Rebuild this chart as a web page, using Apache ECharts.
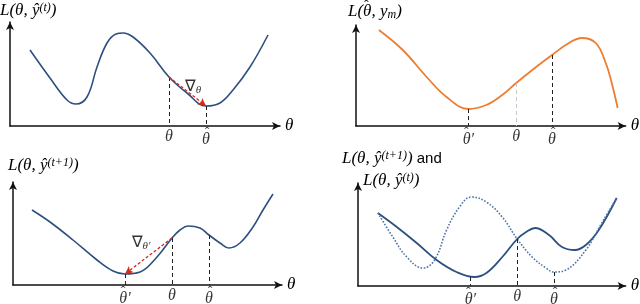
<!DOCTYPE html>
<html><head><meta charset="utf-8">
<script src="https://cdn.jsdelivr.net/npm/echarts@6/dist/echarts.min.js"></script>
<style>html,body{margin:0;padding:0;background:#fff}#c{width:640px;height:304px}</style>
</head><body><div id="c"></div>
<script>
// ---- data (units: grid units) ----
const curveTL = [[20,76],[40,48],[57,26],[66,22],[77,29],[87,59],[97,83],[106,92],[113,93],[123,89],[140,73],[159,49],[177,33],[196,20],[210,23],[223,36],[240,59],[258,91]];
const marksTLx = [159,196];
const marksTLy = [49,20];
const labelsTL = ['θ','θ^'];
const arrowTL = [[159,49],[196,20]];

const curveTR = [[23,96],[47,76],[71,49],[91,29],[113,17],[131,21],[147,31],[161,43],[181,59],[197,71],[214,83],[227,88],[241,83],[251,63],[257,43],[263,18]];
const marksTRx = [113,161,197];
const marksTRy = [17,43,71];
const labelsTR = ['θ^′','θ','θ^'];

const curveBL = [[19,75],[37,63],[60,45],[84,25],[100,14],[112,11],[127,13],[144,28],[159,47],[167,55],[175,59],[187,57],[196,50],[207,42],[216,37],[227,42],[240,58],[250,75],[260,91]];
const marksBLx = [112,159,196];
const marksBLy = [11,47,50];
const labelsBL = ['θ^′','θ','θ^'];
const arrowBL = [[159,47],[112,11]];

const curveBRsolid = [[20,73],[39,59],[59,43],[79,26],[99,14],[117,9],[129,13],[145,29],[160,47],[169,54],[178,58],[192,51],[205,39],[218,36],[229,41],[242,56],[260,88]];
const curveBRdotted = [[20,73],[35,49],[49,29],[65,18],[77,26],[89,56],[102,79],[114,89],[129,84],[145,69],[160,47],[175,29],[189,18],[197,14],[209,16],[229,36],[245,63],[260,88]];
const marksBRx = [113,160,197];
const marksBRy = [9,47,14];
const labelsBR = ['θ^′','θ','θ^'];

// ---- styling ----
const BLUE = '#2d5080';
const DOT = '#4d73a8';
const ORANGE = '#ed7d31';
const RED = '#d42a1e';
const MATH = 'Liberation Serif';

const grids = [
  {left:10, top:22, width:270, height:104},
  {left:356, top:25, width:271, height:101},
  {left:13, top:182, width:269, height:103},
  {left:358, top:183, width:269, height:103}
];

const axisLine = {show:true, lineStyle:{color:'#111', width:1.5}, symbol:['none','arrow'], symbolSize:[6,8]};

const xAxes = grids.map((g,i)=>({
  type:'value', gridIndex:i, min:0, max:g.width,
  axisLine, axisTick:{show:false}, axisLabel:{show:false}, splitLine:{show:false},
  name:'θ', nameLocation:'end', nameGap:5,
  nameTextStyle:{fontFamily:MATH, fontStyle:'italic', fontSize:17, color:'#000', verticalAlign:'middle'}
}));
const yAxes = grids.map((g,i)=>({
  type:'value', gridIndex:i, min:0, max:g.height,
  axisLine, axisTick:{show:false}, axisLabel:{show:false}, splitLine:{show:false}
}));

function drops(xs, ys, styles){
  return xs.map((x,k)=>[
    {coord:[x, ys[k]], symbol:'none', lineStyle:Object.assign({color:'#222', type:[4,3], width:1}, (styles&&styles[k])||{})},
    {coord:[x, 0], symbol:'none'}
  ]);
}
function arrow(pts){
  return [[
    {coord:pts[0], symbol:'none', lineStyle:{color:RED, type:[3,2], width:1.3}},
    {coord:pts[1], symbol:'arrow', symbolSize:[6,8]}
  ]];
}
// label text 'θ^' means theta with a hat; trailing ′ is a prime
function tickLabels(i, xs, labels){
  const textSeries = {
    type:'scatter', xAxisIndex:i, yAxisIndex:i, symbolSize:0, silent:true, z:5,
    data: xs.map((x,k)=>{
      const hat = labels[k].indexOf('^') >= 0;
      return {value:[x,0], name:labels[k].replace('^',''), label:{distance: hat ? 6 : 3}};
    }),
    label:{show:true, position:'bottom', formatter:p=>p.name,
      fontFamily:MATH, fontStyle:'italic', fontSize:16, color:'#000'}
  };
  const hatSeries = {
    type:'scatter', xAxisIndex:i, yAxisIndex:i, symbolSize:0, silent:true, z:6,
    data: xs.map((x,k)=>({x, l:labels[k]})).filter(o=>o.l.indexOf('^')>=0).map(o=>({
      value:[o.x,0], name:'ˆ', label:{offset:[o.l.length > 2 ? -2 : 1, 0]}
    })),
    label:{show:true, position:'bottom', distance:0, formatter:p=>p.name,
      fontFamily:MATH, fontSize:14, lineHeight:14, color:'#000'}
  };
  return [textSeries, hatSeries];
}
function curve(i, data, color, type, width){
  return {type:'line', xAxisIndex:i, yAxisIndex:i, data, smooth:0.4, showSymbol:false, silent:true,
    lineStyle:{color, width:width||1.6, type:type||'solid'}};
}
function nabla(i, pos, sub){
  return {type:'scatter', xAxisIndex:i, yAxisIndex:i, symbolSize:0, silent:true,
    data:[{value:pos}],
    label:{show:true, position:'inside', formatter:'{a|∇}{b|' + sub + '}',
      rich:{a:{fontFamily:MATH, fontSize:16, color:'#000'}, b:{fontFamily:MATH, fontStyle:'italic', fontSize:11, color:'#000', verticalAlign:'bottom', padding:[6,0,0,0]}}}};
}

const series = [];
// TL
let s = curve(0, curveTL, BLUE);
s.markLine = {silent:true, animation:false, label:{show:false}, data: drops(marksTLx, marksTLy).concat(arrow(arrowTL))};
series.push(s, ...tickLabels(0, marksTLx, labelsTL), nabla(0, [183,39], 'θ'));
// TR
s = curve(1, curveTR, ORANGE, 'solid', 1.8);
s.markLine = {silent:true, animation:false, label:{show:false}, data: drops(marksTRx, marksTRy, [{},{color:'#c8c8c8'},{}])};
series.push(s, ...tickLabels(1, marksTRx, labelsTR));
// BL
s = curve(2, curveBL, BLUE);
s.markLine = {silent:true, animation:false, label:{show:false}, data: drops(marksBLx, marksBLy).concat(arrow(arrowBL))};
series.push(s, ...tickLabels(2, marksBLx, labelsBL), nabla(2, [128,42], 'θ′'));
// BR
s = curve(3, curveBRsolid, BLUE, 'solid', 1.8);
s.markLine = {silent:true, animation:false, label:{show:false}, data: drops(marksBRx, marksBRy)};
series.push(s, curve(3, curveBRdotted, DOT, 'dotted', 1.6), ...tickLabels(3, marksBRx, labelsBR));

const richT = {
  m:{fontFamily:MATH, fontStyle:'italic', fontWeight:'normal', fontSize:17, color:'#000'},
  s:{fontFamily:MATH, fontStyle:'italic', fontWeight:'normal', fontSize:12, color:'#000', verticalAlign:'top', padding:[0,0,6,0]},
  s2:{fontFamily:MATH, fontStyle:'italic', fontWeight:'normal', fontSize:12, color:'#000', verticalAlign:'bottom', padding:[6,0,0,0]},
  t:{fontFamily:'Liberation Sans', fontWeight:'normal', fontSize:15, color:'#000'},
  h:{fontFamily:MATH, fontWeight:'normal', fontSize:14, color:'#000'}
};
function ttl(text, left, top){
  return {text, left, top, padding:0, textStyle:{rich:richT, fontSize:17, fontWeight:'normal'}};
}
const titles = [
  ttl('{m|L(θ, ŷ}{s|(t)}{m|)}', 0, 2),
  ttl('{m|L(θ, y}{s2|m}{m|)}', 348, 3),
  ttl('{h|ˆ}', 364, -1),
  ttl('{m|L(θ, ŷ}{s|(t+1)}{m|)}', 8, 157),
  ttl('{m|L(θ, ŷ}{s|(t+1)}{m|)}{t| and}', 342, 150),
  ttl('{m|L(θ, ŷ}{s|(t)}{m|)}', 363, 172)
];

const chart = echarts.init(document.getElementById('c'), null, {renderer:'canvas'});
chart.setOption({
  animation:false,
  backgroundColor:'#fff',
  title: titles,
  grid: grids,
  xAxis: xAxes,
  yAxis: yAxes,
  series
});
</script></body></html>
